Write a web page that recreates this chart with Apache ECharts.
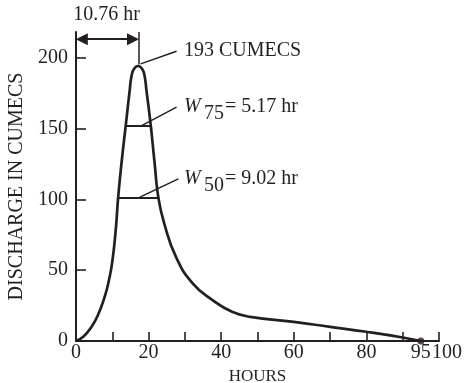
<!DOCTYPE html>
<html>
<head>
<meta charset="utf-8">
<script src="https://cdn.jsdelivr.net/npm/echarts@6/dist/echarts.min.js"></script>
<style>
html,body{margin:0;padding:0;background:#fff;}
#c{width:464px;height:383px;}
</style>
</head>
<body>
<div id="c"></div>
<script>
// Hydrograph data (hours, discharge in cumecs)
var hours =     [0, 2, 4, 6, 8, 9, 10, 11, 11.6, 12.6, 13.7, 14.8, 15.3, 16, 17.1, 18.2, 18.9, 19.4, 20.6, 21.6, 22.7, 24.3, 27.6, 32.2, 37.7, 43, 48, 60, 70, 80, 90, 95];
var discharge = [0, 3, 9, 18, 32, 42, 56, 80, 101, 127, 152, 177, 187, 192, 194, 192, 187, 177, 152, 127, 101, 83, 59, 40.5, 28.7, 20.6, 17, 13.5, 10, 6.5, 2.5, 0];

var xLabelValues = [0, 20, 40, 60, 80, 95, 100];
var xTickValues = [10, 20, 30, 40, 50, 60, 70, 80, 90, 100];
var yTickValues = [0, 50, 100, 150, 200];
var endPoint = [95, 0];

// Annotation geometry (data coordinates)
var tpArrow = [[1.6, 212.9], [15.7, 212.9]];
var tpMarker = [[17.27, 218], [17.27, 195]];
var w75Line = [[13.6, 152], [20.8, 152]];
var w50Line = [[11.6, 101.2], [22.9, 101.2]];
var peakLeader = [[17.8, 195.5], [27.7, 204.4]];
var w75Leader = [[18.1, 152], [27.7, 165]];
var w50Leader = [[17.6, 101.5], [28.2, 114.4]];

var FONT = "'Liberation Serif', 'DejaVu Serif', serif";
var INK = '#231f20';

var chart = echarts.init(document.getElementById('c'));
var curve = hours.map(function (h, i) { return [h, discharge[i]]; });

function seg(coords) { return { coords: coords }; }

chart.setOption({
  animation: false,
  backgroundColor: '#fff',
  grid: { left: 76, right: 25, top: 32, bottom: 42, containLabel: false, outerBoundsMode: 'none' },
  xAxis: {
    type: 'value', min: 0, max: 100,
    name: 'HOURS', nameLocation: 'middle', nameGap: 26,
    nameTextStyle: { fontFamily: FONT, fontSize: 17, color: INK },
    axisLine: { lineStyle: { color: INK, width: 2 } },
    axisTick: { show: true, inside: true, length: 9, customValues: xTickValues, lineStyle: { color: INK, width: 1.6 } },
    axisLabel: {
      customValues: xLabelValues, fontFamily: FONT, fontSize: 20, color: INK, margin: 2,
      formatter: function (v) { return v === 100 ? '{s|100}' : String(v); },
      rich: { s: { fontFamily: FONT, fontSize: 20, color: INK, padding: [0, 0, 0, 16] } }
    },
    splitLine: { show: false }
  },
  yAxis: {
    type: 'value', min: 0, max: 218,
    name: 'DISCHARGE IN CUMECS', nameLocation: 'middle', nameGap: 46,
    nameTextStyle: { fontFamily: FONT, fontSize: 20, color: INK },
    axisLine: { show: true, lineStyle: { color: INK, width: 2 } },
    axisTick: { show: true, inside: true, length: 10, customValues: yTickValues, lineStyle: { color: INK, width: 1.6 } },
    axisLabel: { customValues: yTickValues, fontFamily: FONT, fontSize: 20, color: INK, margin: 8 },
    splitLine: { show: false }
  },
  series: [
    {
      type: 'line', data: curve, smooth: true, showSymbol: false,
      lineStyle: { color: INK, width: 2.7 }, clip: false
    },
    {
      type: 'scatter', data: [endPoint], symbol: 'circle', symbolSize: 7,
      itemStyle: { color: INK }
    },
    {
      type: 'lines', coordinateSystem: 'cartesian2d', clip: false,
      lineStyle: { color: INK, width: 2, opacity: 1 },
      symbol: 'none',
      data: [seg(w75Line), seg(w50Line)]
    },
    {
      type: 'lines', coordinateSystem: 'cartesian2d', clip: false,
      lineStyle: { color: INK, width: 1.5, opacity: 1 },
      symbol: 'none',
      data: [seg(tpMarker), seg(peakLeader), seg(w75Leader), seg(w50Leader)]
    },
    {
      type: 'lines', coordinateSystem: 'cartesian2d', clip: false,
      lineStyle: { color: INK, width: 2, opacity: 1 },
      symbol: ['triangle', 'triangle'], symbolSize: 12,
      itemStyle: { color: INK },
      data: [seg(tpArrow)]
    }
  ]
});

function px(p) { return chart.convertToPixel({ gridIndex: 0 }, p); }
var tStyle = function (text, extra) {
  var s = { text: text, fontFamily: FONT, fontSize: 20, fill: INK };
  for (var k in extra) s[k] = extra[k];
  return s;
};
var pTp = px([8.4, 230]);
var pPeak = px([29.75, 204.7]);
var pW75 = px([29.75, 165.3]);
var pW50 = px([29.75, 114.4]);
function wLabel(p, sub, rest) {
  return [
    { type: 'text', x: p[0], y: p[1], style: tStyle('W', { fontStyle: 'italic', textAlign: 'left', textVerticalAlign: 'middle' }) },
    { type: 'text', x: p[0] + 20, y: p[1] + 7, style: tStyle(sub, { textAlign: 'left', textVerticalAlign: 'middle' }) },
    { type: 'text', x: p[0] + 41, y: p[1], style: tStyle(rest, { textAlign: 'left', textVerticalAlign: 'middle' }) }
  ];
}
var g = [
  { type: 'text', x: pTp[0], y: pTp[1], style: tStyle('10.76 hr', { textAlign: 'center', textVerticalAlign: 'middle' }) },
  { type: 'text', x: pPeak[0], y: pPeak[1], style: tStyle('193 CUMECS', { textAlign: 'left', textVerticalAlign: 'middle' }) }
].concat(wLabel(pW75, '75', '= 5.17 hr')).concat(wLabel(pW50, '50', '= 9.02 hr'));
chart.setOption({ graphic: g });
</script>
</body>
</html>
